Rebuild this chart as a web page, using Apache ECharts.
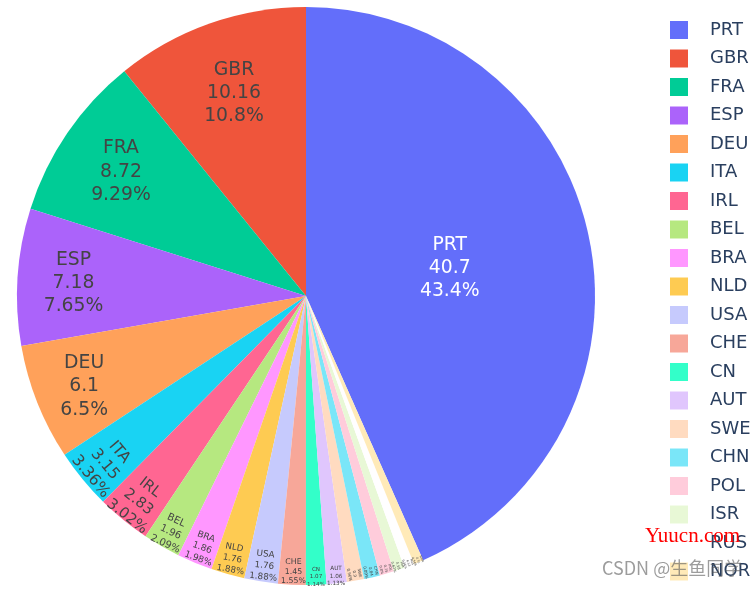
<!DOCTYPE html>
<html>
<head>
<meta charset="utf-8">
<style>
  html, body { margin: 0; padding: 0; background: #fff; }
  #chart { width: 754px; height: 590px; }
</style>
</head>
<body>
<div id="chart"></div>
<script src="https://cdn.jsdelivr.net/npm/echarts@6/dist/echarts.min.js"></script>
<script>
// data
var countries = ['PRT','GBR','FRA','ESP','DEU','ITA','IRL','BEL','BRA','NLD','USA','CHE','CN','AUT','SWE','CHN','POL','ISR','RUS','NOR'];
var values = [40.7,10.16,8.72,7.18,6.1,3.15,2.83,1.96,1.86,1.76,1.76,1.45,1.07,1.06,0.9,0.84,0.75,0.58,0.53,0.51];
var percents = ['43.4%','10.8%','9.29%','7.65%','6.5%','3.36%','3.02%','2.09%','1.98%','1.88%','1.88%','1.55%','1.14%','1.13%','0.96%','0.89%','0.8%','0.62%','0.56%','0.54%'];

// slice colours, plotly palette then its lightened tints
var colors = ['#636efa','#ef553b','#00cc96','#ab63fa','#ffa15a','#19d3f3','#ff6692','#b6e880','#ff97ff','#fecb52',
  '#c6cafd','#f7a799','#33ffc9','#e0c6fd','#ffdbc0','#7ae6f8','#ffccdb','#e8f8d6','#fffeff','#ffeab8'];

// label styling per slice
var labelSizes = [18.8,18.8,18.8,18.8,18.8,15.7,14.8,10,9,8.7,8.8,7.8,5.6,5.7,4,4,3.5,3.5,3,3];
var labelLeading = [1.23,1.23,1.23,1.23,1.23,1.2,1.25,1.3,1.3,1.3,1.3,1.25,1.3,1.3,1.3,1.3,1.3,1.3,1.3,1.3];
var labelRotate = [0,0,0,0,0,-50,-38,-25,-20,-10,-6,0,0,0,-80,-78,-76,-74,-72,-70];
var labelRadius = [146,210,221,233,240,261,264,272,272,273,271,274,278,279,279,280,281,282,283,284];
// small screen nudges on top of the radial placement
var nudgeX = [-2,-1,0,3,4,3,1,2,2,1,1,1,0,0,0,0,0,0,0,0];
var nudgeY = [3,-2,2,3,1,1,-1,-2,-2,-3,-1,-1,0,0,0,0,0,0,0,0];

var cx = 306, cy = 296, R = 289;
var total = values.reduce(function (a, b) { return a + b; }, 0);
var startAngle = 90 - 360 * values[0] / total;

// direction from pie centre to middle of each slice
var midAngles = [];
var acc = 0;
values.forEach(function (v) {
  midAngles.push((startAngle + 360 * (acc + v / 2) / total) * Math.PI / 180);
  acc += v;
});

var myChart = echarts.init(document.getElementById('chart'));

var option = {
  animation: false,
  backgroundColor: '#fff',
  legend: {
    left: 665,
    top: 16,
    orient: 'vertical',
    itemWidth: 18,
    itemHeight: 18,
    itemGap: 10.5,
    icon: 'rect',
    selectedMode: false,
    data: countries,
    textStyle: {
      fontFamily: 'DejaVu Sans',
      fontSize: 18,
      color: '#2a3f5f',
      padding: [0, 0, 0, 17]
    }
  },
  series: [
    {
      type: 'pie',
      center: [cx, cy],
      radius: [0, R],
      startAngle: startAngle,
      clockwise: false,
      avoidLabelOverlap: false,
      minShowLabelAngle: 0,
      silent: true,
      labelLine: { show: false },
      data: countries.map(function (name, i) {
        return {
          name: name,
          value: values[i],
          itemStyle: { color: colors[i] },
          label: {
            show: true,
            position: 'inside',
            rotate: labelRotate[i],
            formatter: name + '\n' + values[i] + '\n' + percents[i],
            fontFamily: 'DejaVu Sans',
            fontSize: labelSizes[i],
            lineHeight: labelSizes[i] * labelLeading[i],
            color: i === 0 ? '#fff' : '#444'
          }
        };
      }),
      // ECharts keeps inside labels at half radius, push them out to where they sit.
      // dx/dy act in the label's rotated frame so the offset is turned back first
      labelLayout: function (params) {
        var i = params.dataIndex;
        var extra = labelRadius[i] - R / 2;
        var X = Math.cos(midAngles[i]) * extra + nudgeX[i];
        var Y = -Math.sin(midAngles[i]) * extra + nudgeY[i];
        var r = labelRotate[i] * Math.PI / 180;
        return {
          dx: X * Math.cos(r) - Y * Math.sin(r),
          dy: X * Math.sin(r) + Y * Math.cos(r)
        };
      }
    }
  ],
  graphic: [
    {
      type: 'text',
      z: 100,
      left: 645,
      top: 526,
      style: { text: 'Yuucn.com', fill: '#f00', font: '21px "Liberation Serif"' }
    },
    {
      type: 'text',
      z: 100,
      left: 602,
      top: 559,
      style: { text: 'CSDN @生鱼同学', fill: 'rgba(90,90,90,0.6)', font: '18px "Noto Sans CJK SC"' }
    }
  ]
};

myChart.setOption(option);
</script>
</body>
</html>
